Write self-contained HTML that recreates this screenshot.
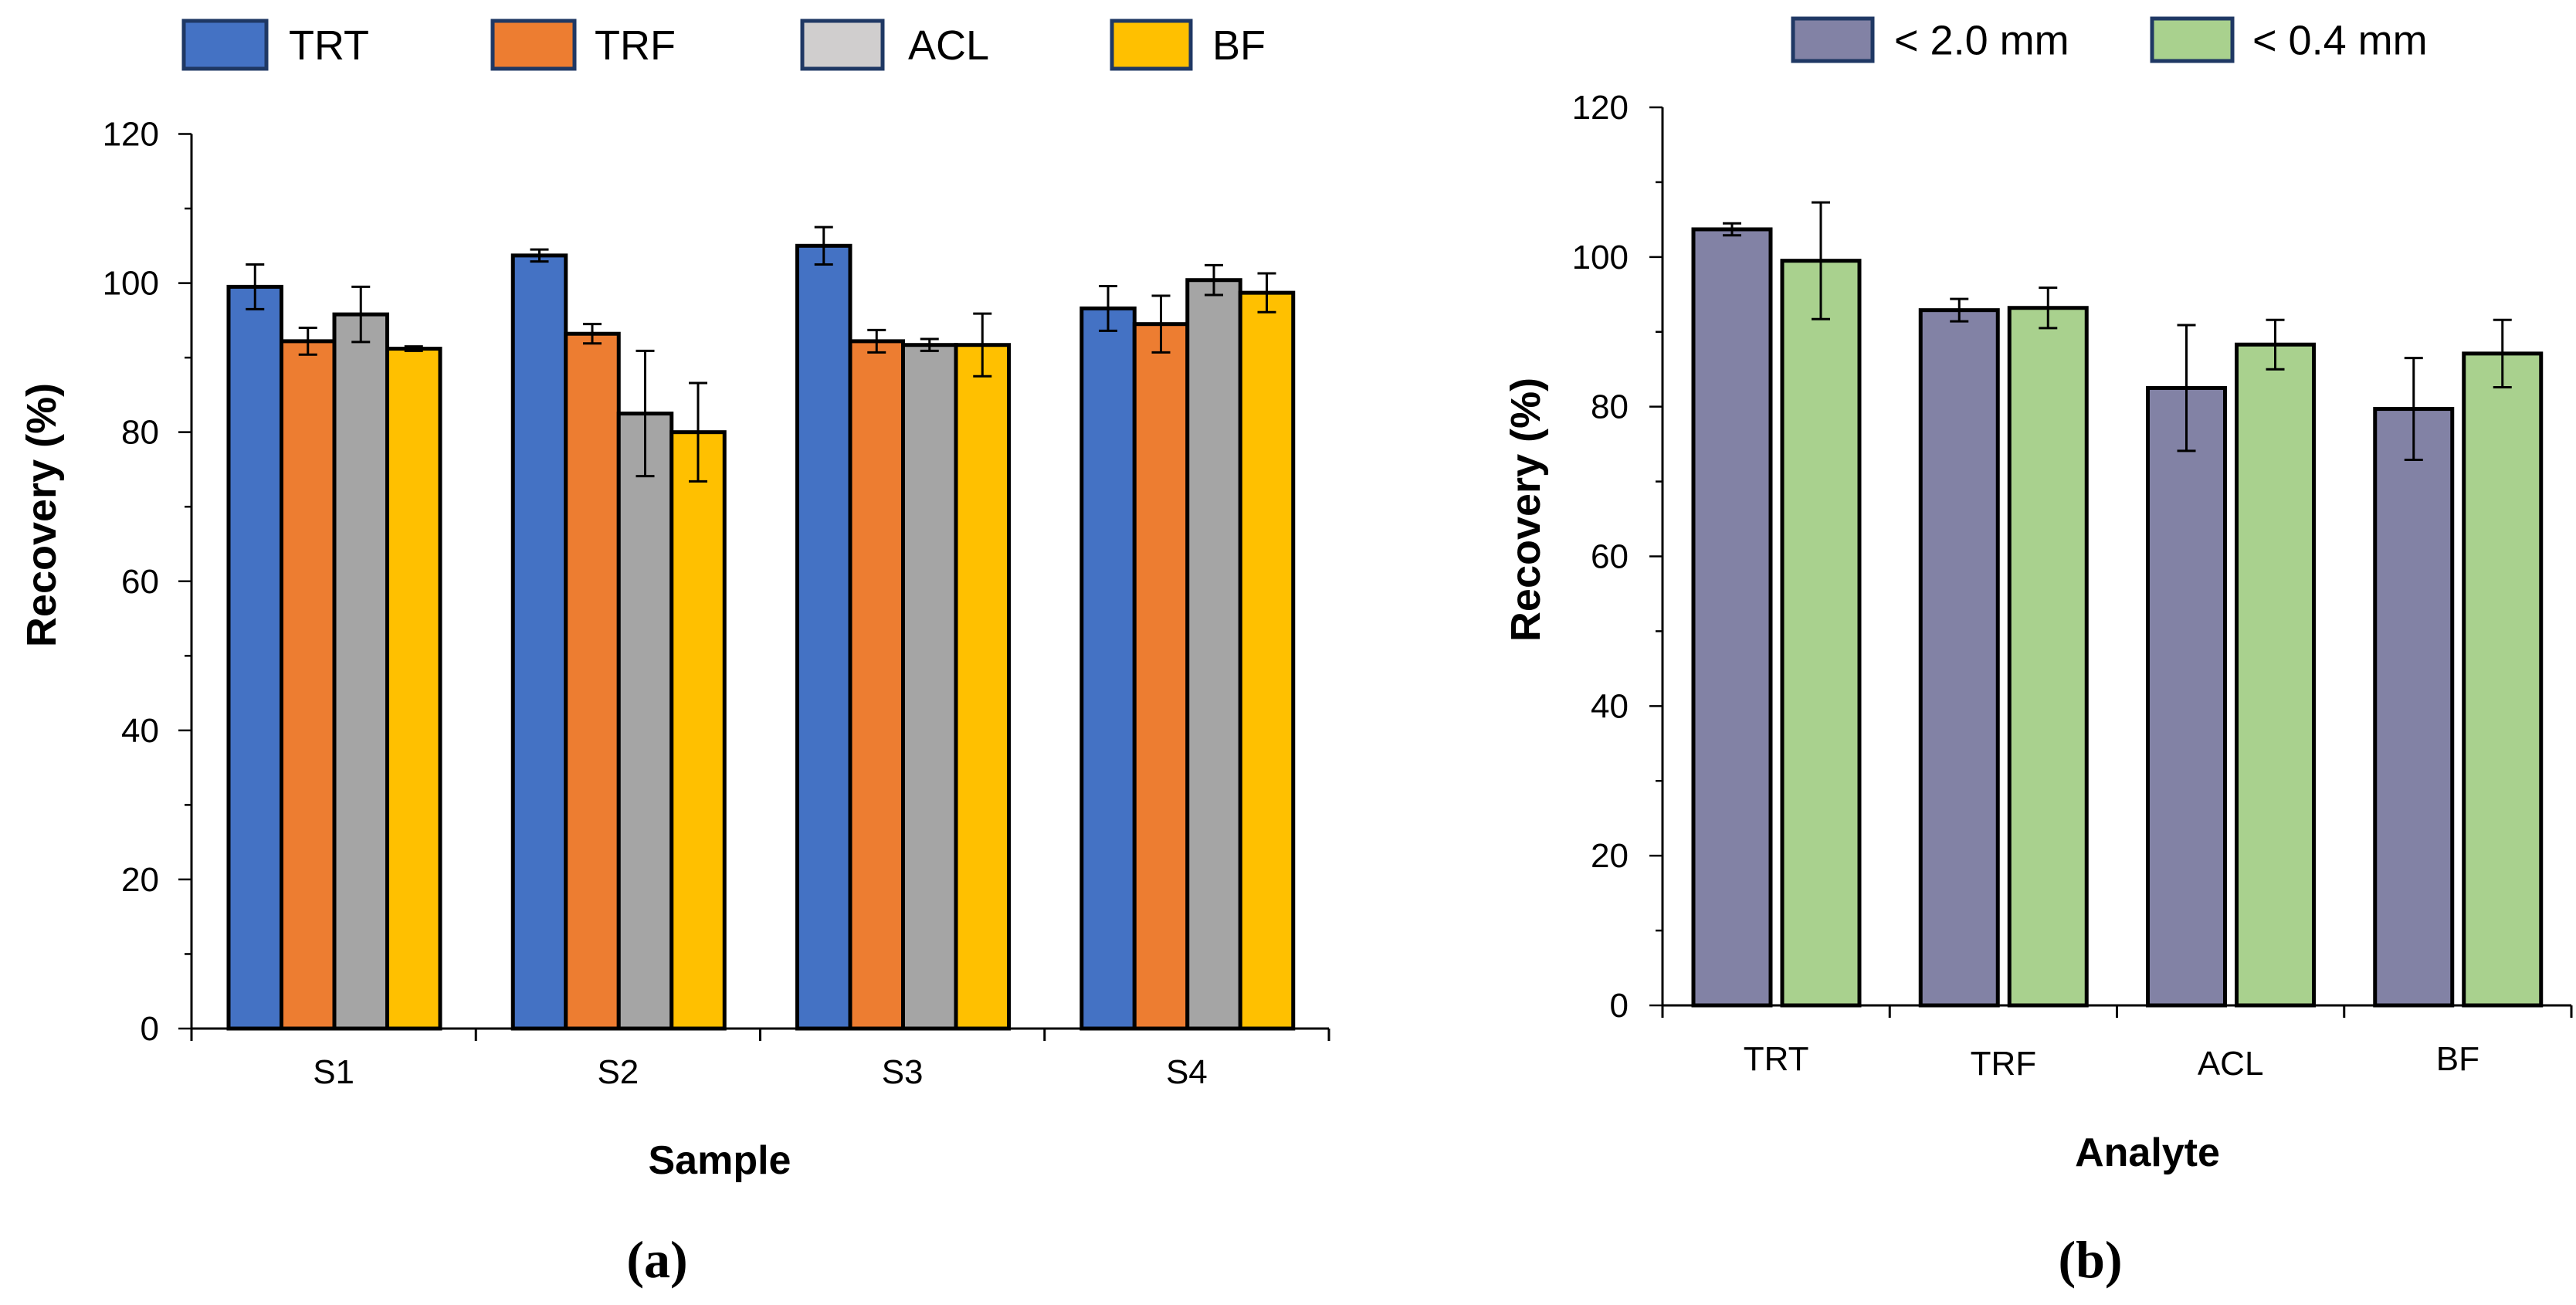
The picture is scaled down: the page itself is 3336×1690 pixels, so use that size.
<!DOCTYPE html>
<html><head><meta charset="utf-8"><style>
html,body{margin:0;padding:0;background:#fff;}
svg{display:block;font-family:"Liberation Sans",sans-serif;}
</style></head><body>
<svg id="fig" width="3336" height="1690" viewBox="0 0 3336 1690"></svg>
<script>
const catsA=["S1","S2","S3","S4"];
const seriesA=["TRT","TRF","ACL","BF"];
const trtA=[99.5,103.7,105,96.6], trtErrA=[3,0.8,2.5,3];
const trfA=[92.2,93.2,92.2,94.5], trfErrA=[1.8,1.3,1.5,3.8];
const aclA=[95.8,82.5,91.7,100.4], aclErrA=[3.7,8.4,0.8,2];
const bfA=[91.2,80,91.7,98.7], bfErrA=[0.3,6.6,4.2,2.6];
const catsB=["TRT","TRF","ACL","BF"];
const seriesB=["< 2.0 mm","< 0.4 mm"];
const coarseB=[103.7,92.9,82.5,79.7], coarseErrB=[0.8,1.5,8.4,6.8];
const fineB=[99.5,93.2,88.3,87.1], fineErrB=[7.8,2.7,3.3,4.5];
const yTicks=[0,20,40,60,80,100,120];

const NS="http://www.w3.org/2000/svg";
const svg=document.getElementById('fig');
function el(tag,attrs,parent,txt){const e=document.createElementNS(NS,tag);for(const k in attrs)e.setAttribute(k,attrs[k]);if(txt!==undefined)e.textContent=txt;(parent||svg).appendChild(e);return e;}

function panel(cfg){
  const g=el('g',{});
  
  
  const y=v=>cfg.y0+(cfg.y120-cfg.y0)*v/120;
  const cw=(cfg.xEnd-cfg.x0)/cfg.cats.length;
  // y axis
  const ax=el('line',{x1:cfg.x0,y1:y(120),x2:cfg.x0,y2:y(0),stroke:'#000','stroke-width':3},g);
  
  for(let v=0;v<=120;v+=10){
    const major=v%20===0;
    el('line',{x1:cfg.x0-(major?17:9),y1:y(v),x2:cfg.x0,y2:y(v),stroke:'#000','stroke-width':2.5},g);
  }
  yTicks.forEach(v=>{
    const t=el('text',{x:cfg.tickRight,y:y(v)+15,'text-anchor':'end','font-size':44,fill:'#000'},g,String(v));
    
  });
  // series bars
  cfg.series.forEach((s,si)=>{
    cfg.cats.forEach((c,ci)=>{
      const v=s.vals[ci],e=s.errs[ci];
      const bx=cfg.x0+ci*cw+cfg.margin+si*(cfg.bw+cfg.gap);
      const r=el('rect',{x:bx,y:y(v),width:cfg.bw,height:y(0)-y(v),fill:s.color,stroke:'#000','stroke-width':5},g);
      
      
      const cx=bx+cfg.bw/2;
      const eg=el('g',{stroke:'#000','stroke-width':3},g);
      
      
      el('line',{x1:cx,y1:y(v+e),x2:cx,y2:y(v-e)},eg);
      el('line',{x1:cx-12,y1:y(v+e),x2:cx+12,y2:y(v+e)},eg);
      el('line',{x1:cx-12,y1:y(v-e),x2:cx+12,y2:y(v-e)},eg);
    });
  });
  // x axis
  const xa=el('line',{x1:cfg.x0,y1:y(0),x2:cfg.xEnd,y2:y(0),stroke:'#000','stroke-width':3},g);
  
  for(let i=0;i<=cfg.cats.length;i++){
    el('line',{x1:cfg.x0+i*cw,y1:y(0),x2:cfg.x0+i*cw,y2:y(0)+16,stroke:'#000','stroke-width':3},g);
  }
  cfg.cats.forEach((c,ci)=>{
    const t=el('text',{x:cfg.x0+(ci+0.5)*cw,y:cfg.catY+(cfg.catDy?cfg.catDy[ci]:0),'text-anchor':'middle','font-size':44},g,c);
    
  });
  const xt=el('text',{x:cfg.xTitleX,y:cfg.xTitleY,'text-anchor':'middle','font-size':52,'font-weight':'bold'},g,cfg.xTitle);
  
  const yt=el('text',{x:0,y:0,'text-anchor':'middle','font-size':54,'font-weight':'bold',transform:`translate(${cfg.yTitleX},${cfg.yTitleY}) rotate(-90)`},g,'Recovery (%)');
  
  const pl=el('text',{x:cfg.labelX,y:1654,'text-anchor':'middle','font-size':68,'font-weight':'bold','font-family':'"Liberation Serif",serif'},g,cfg.label);
  
  // legend
  cfg.legend.forEach((L,i)=>{
    const lg=el('g',{},g);
    
    
    el('rect',{x:L.bx,y:L.by,width:L.bw,height:L.bh,fill:L.fill,stroke:'#1F3864','stroke-width':5},lg);
    el('text',{x:L.tx,y:L.by+L.bh/2+19,'font-size':54},lg,L.text);
  });
}

panel({name:'panel-a',x0:248,xEnd:1721,y0:1332,y120:173.5,tickRight:206,cats:catsA,margin:48,bw:68.5,gap:0,
  series:[{key:'trt',vals:trtA,errs:trtErrA,color:'#4472C4'},{key:'trf',vals:trfA,errs:trfErrA,color:'#ED7D31'},
          {key:'acl',vals:aclA,errs:aclErrA,color:'#A5A5A5'},{key:'bf',vals:bfA,errs:bfErrA,color:'#FFC000'}],
  catY:1403,xTitle:'Sample',xTitleX:932,xTitleY:1520,yTitleX:72,yTitleY:667,label:'(a)',labelX:851,
  legend:[{key:'trt',bx:238,by:27,bw:107,bh:62,fill:'#4472C4',tx:374,text:seriesA[0]},
          {key:'trf',bx:638,by:27,bw:106,bh:62,fill:'#ED7D31',tx:770,text:seriesA[1]},
          {key:'acl',bx:1039,by:27,bw:104,bh:62,fill:'#D0CECE',tx:1176,text:seriesA[2]},
          {key:'bf',bx:1440,by:27,bw:102,bh:62,fill:'#FFC000',tx:1570,text:seriesA[3]}]
});
panel({name:'panel-b',x0:2153,xEnd:3330,y0:1302,y120:139,tickRight:2109,cats:catsB,margin:40,bw:100,gap:15,
  series:[{key:'coarse',vals:coarseB,errs:coarseErrB,color:'#8282A5'},{key:'fine',vals:fineB,errs:fineErrB,color:'#A9D18E'}],
  catY:1386,catDy:[0,6,6,0],xTitle:'Analyte',xTitleX:2781,xTitleY:1510,yTitleX:1994,yTitleY:660,label:'(b)',labelX:2707,
  legend:[{key:'coarse',bx:2322,by:24,bw:103,bh:55,fill:'#8282A5',tx:2453,text:seriesB[0]},
          {key:'fine',bx:2787,by:24,bw:104,bh:55,fill:'#A9D18E',tx:2917,text:seriesB[1]}]
});
</script>
</body></html>
